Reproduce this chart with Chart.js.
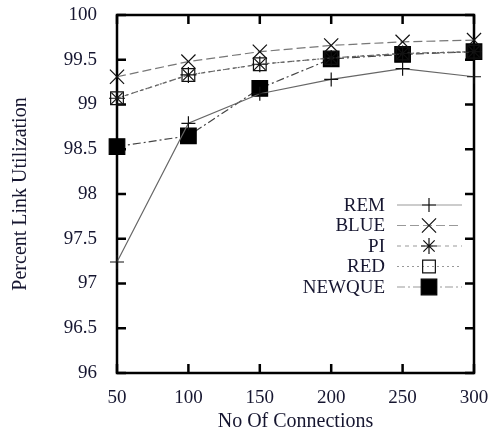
<!DOCTYPE html>
<html>
<head>
<meta charset="utf-8">
<script src="https://cdn.jsdelivr.net/npm/chart.js@4"></script>
<style>
  html, body { margin: 0; padding: 0; background: #fff; }
  #wrap { width: 497px; height: 434px; }
</style>
</head>
<body>
<div id="wrap"><canvas id="c" width="497" height="434"></canvas></div>
<script>
// link utilization vs number of connections
const connections = [50, 100, 150, 200, 250, 300];
const remUtil    = [97.24, 98.79, 99.12, 99.28, 99.40, 99.31];
const blueUtil   = [99.31, 99.48, 99.59, 99.66, 99.70, 99.72];
const piUtil     = [99.07, 99.33, 99.45, 99.52, 99.57, 99.59];
const redUtil    = [99.07, 99.33, 99.45, 99.52, 99.57, 99.59];
const newqueUtil = [98.53, 98.65, 99.18, 99.51, 99.56, 99.59];
const yTicks = [96, 96.5, 97, 97.5, 98, 98.5, 99, 99.5, 100];

const serif = '"Liberation Serif", "Times New Roman", serif';
const textColor = '#161630';

function series(label, data, style) {
  return Object.assign({
    label,
    data: connections.map((x, i) => ({ x, y: data[i] })),
    borderColor: '#666',
    borderWidth: 1.2,
    pointBorderColor: '#111',
    pointBackgroundColor: 'rgba(0,0,0,0)',
    pointBorderWidth: 1.2,
    fill: false,
    tension: 0,
    clip: false
  }, style);
}

const datasets = [
  series('REM', remUtil, { pointStyle: 'cross', pointRadius: 7, borderDash: [] }),
  series('BLUE', blueUtil, { pointStyle: 'crossRot', pointRadius: 10, borderDash: [9, 4], borderColor: '#777' }),
  series('PI', piUtil, { pointStyle: 'star', pointRadius: 8, borderDash: [4, 4] }),
  series('RED', redUtil, { pointStyle: 'rect', pointRadius: 9, borderDash: [2, 3], pointBackgroundColor: 'rgba(255,255,255,0)' }),
  series('NEWQUE', newqueUtil, { pointStyle: 'rect', pointRadius: 11, borderDash: [8, 3, 2, 3], pointBackgroundColor: '#000', pointBorderColor: '#000', borderColor: '#444' })
];

// frame with inward ticks on all four sides
const framePlugin = {
  id: 'frame',
  beforeDatasetsDraw(chart) {
    const { ctx, chartArea: a, scales } = chart;
    ctx.save();
    ctx.strokeStyle = '#000';
    ctx.lineWidth = 2.5;
    ctx.strokeRect(a.left, a.top, a.right - a.left, a.bottom - a.top);
    const len = 9;
    ctx.beginPath();
    connections.forEach(v => {
      const x = scales.x.getPixelForValue(v);
      ctx.moveTo(x, a.bottom); ctx.lineTo(x, a.bottom - len);
      ctx.moveTo(x, a.top); ctx.lineTo(x, a.top + len);
    });
    yTicks.forEach(v => {
      const y = scales.y.getPixelForValue(v);
      ctx.moveTo(a.left, y); ctx.lineTo(a.left + len, y);
      ctx.moveTo(a.right, y); ctx.lineTo(a.right - len, y);
    });
    ctx.stroke();
    ctx.restore();
  }
};

// gnuplot-style key: right-aligned labels, line sample with marker
const keyPlugin = {
  id: 'key',
  afterDatasetsDraw(chart) {
    const { ctx } = chart;
    const textRight = 385, x0 = 397, x1 = 462, xm = 429;
    const rows = [205, 225.5, 246, 266.5, 287];
    ctx.save();
    chart.data.datasets.forEach((ds, i) => {
      const y = rows[i];
      ctx.fillStyle = textColor;
      ctx.font = '19px ' + serif;
      ctx.textAlign = 'right';
      ctx.textBaseline = 'middle';
      ctx.fillText(ds.label, textRight, y + 1);
      ctx.strokeStyle = '#999';
      ctx.lineWidth = 1.2;
      ctx.setLineDash(ds.borderDash || []);
      ctx.beginPath();
      ctx.moveTo(x0, y); ctx.lineTo(x1, y);
      ctx.stroke();
      ctx.setLineDash([]);
      ctx.strokeStyle = ds.pointBorderColor;
      ctx.fillStyle = ds.pointBackgroundColor;
      ctx.lineWidth = ds.pointBorderWidth;
      Chart.helpers.drawPoint(ctx, { pointStyle: ds.pointStyle, radius: ds.pointRadius, borderWidth: ds.pointBorderWidth }, xm, y);
    });
    ctx.restore();
  }
};

new Chart(document.getElementById('c').getContext('2d'), {
  type: 'line',
  data: { datasets },
  plugins: [framePlugin, keyPlugin],
  options: {
    responsive: false,
    animation: false,
    devicePixelRatio: 1,
    layout: { padding: { top: 15, right: 23, left: 0, bottom: 0 } },
    plugins: { legend: { display: false }, tooltip: { enabled: false } },
    scales: {
      x: {
        type: 'linear', min: 50, max: 300,
        afterBuildTicks: s => { s.ticks = connections.map(v => ({ value: v })); },
        afterFit: s => { s.height = 61; s.paddingLeft = 0; s.paddingRight = 0; },
        grid: { display: false },
        border: { display: false },
        ticks: { color: textColor, font: { family: serif, size: 19 }, padding: 6, maxRotation: 0 },
        title: { display: true, text: 'No Of Connections', color: textColor, font: { family: serif, size: 20 }, padding: { top: 4, bottom: 0 } }
      },
      y: {
        type: 'linear', min: 96, max: 100,
        afterBuildTicks: s => { s.ticks = yTicks.map(v => ({ value: v })); },
        afterFit: s => { s.width = 117; s.paddingTop = 0; s.paddingBottom = 0; },
        grid: { display: false },
        border: { display: false },
        ticks: { color: textColor, font: { family: serif, size: 19 }, padding: 12, callback: v => String(v) },
        title: { display: true, text: 'Percent Link Utilization', color: textColor, font: { family: serif, size: 20 }, padding: { top: 9, bottom: 0 } }
      }
    }
  }
});
</script>
</body>
</html>
